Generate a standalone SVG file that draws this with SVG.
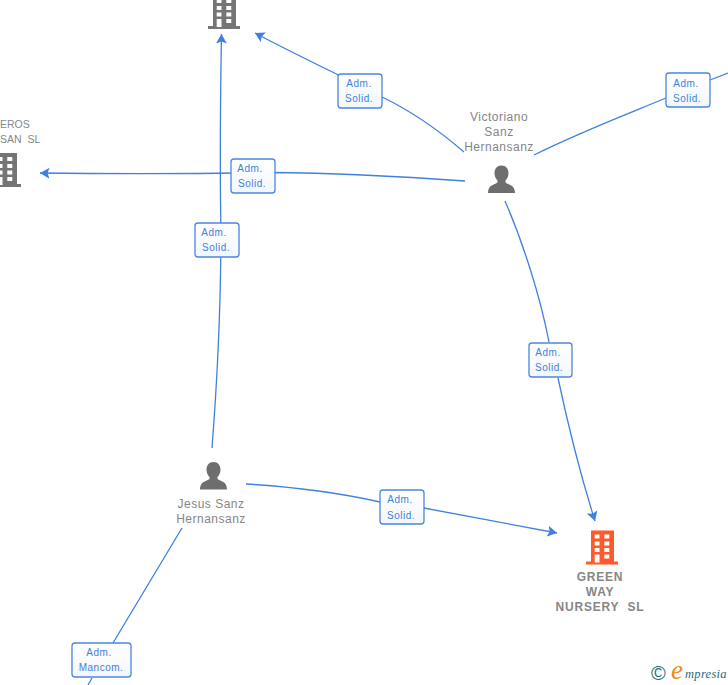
<svg xmlns="http://www.w3.org/2000/svg" width="728" height="685" viewBox="0 0 728 685">
<defs>
<marker id="arrow" viewBox="0 0 10 12" refX="9.500" refY="6" markerWidth="10" markerHeight="12" markerUnits="userSpaceOnUse" orient="auto"><path d="M0 0.500 L9.500 6 L0 11.500 L2 6 Z" fill="#3f80e0"/></marker>
<symbol id="building" viewBox="0 0 32 34" overflow="visible"><path d="M5 0H28V31H32V34H0V31H5Z"/><g fill="#fff"><rect x="8.700" y="4" width="4.800" height="4"/><rect x="18.300" y="4" width="5" height="4"/><rect x="8.700" y="11" width="4.800" height="4"/><rect x="18.300" y="11" width="5" height="4"/><rect x="8.700" y="17.500" width="4.800" height="4"/><rect x="18.300" y="17.500" width="5" height="4"/><rect x="8.700" y="24" width="4.800" height="8"/><rect x="18.300" y="24" width="5" height="4"/></g></symbol>
<symbol id="person" viewBox="0 0 28 28" overflow="visible"><path d="M14 0C18.500 0 21 3.500 21 7.500C21 11 19.500 13.500 18 15V17C21 19.500 27.500 19 27.500 27.500H0.500C0.500 19 7 19.500 10 17V15C8.500 13.500 7 11 7 7.500C7 3.500 9.500 0 14 0Z"/></symbol>
<linearGradient id="box" x1="0" y1="0" x2="0" y2="1"><stop offset="0" stop-color="#fff"/><stop offset="1" stop-color="#f3f7fd"/></linearGradient>
</defs>
<style>
.c{fill:none;stroke:#3f80e0;stroke-width:1.300}
.b{fill:url(#box);stroke:#4a86e0;stroke-width:1.300}
.l{font:10px "Liberation Sans",Arial,sans-serif;fill:#3f7fdc;text-anchor:middle;letter-spacing:.5px}
.n{font:12px "Liberation Sans",Arial,sans-serif;fill:#868686;text-anchor:middle;letter-spacing:.5px}
.s{font-weight:bold;letter-spacing:.8px}
.cut{font:10.500px "Liberation Sans",Arial,sans-serif;fill:#868686}
</style>
<g id="connectors">
<path class="c" marker-end="url(#arrow)" d="M212 448C218 370 222 280 220.500 200C220 140 220.500 90 221.500 34"/>
<path class="c" marker-end="url(#arrow)" d="M464 152C435 127 405 108 382 97C350 80 300 57 255 33"/>
<path class="c" marker-end="url(#arrow)" d="M465 181C380 175 320 173 270 172.500C190 174 110 174 40 173"/>
<path class="c" d="M534 155C580 132 625 115 666 98M710 80L728 73"/>
<path class="c" marker-end="url(#arrow)" d="M505 201C522 240 540 295 549 342M558 378C568 425 582 480 595 521"/>
<path class="c" marker-end="url(#arrow)" d="M246 484C295 487 340 493 380 502M424 508L557 533"/>
<path class="c" d="M182 528L113 643M92 678L88 685"/>
</g>
<g id="rel-top"><rect class="b" x="338" y="74" width="44" height="34" rx="3"/><text class="l" x="359" y="87">Adm.</text><text class="l" x="359" y="102">Solid.</text></g>
<g id="rel-right"><rect class="b" x="666" y="73" width="44" height="34" rx="3"/><text class="l" x="686" y="87">Adm.</text><text class="l" x="687" y="102">Solid.</text></g>
<g id="rel-left"><rect class="b" x="231" y="159" width="44" height="34" rx="3"/><text class="l" x="250" y="172">Adm.</text><text class="l" x="252" y="187">Solid.</text></g>
<g id="rel-vertical"><rect class="b" x="195" y="223" width="44" height="34" rx="3"/><text class="l" x="214" y="236">Adm.</text><text class="l" x="216" y="251">Solid.</text></g>
<g id="rel-victoriano-green"><rect class="b" x="529" y="343" width="43" height="34" rx="3"/><text class="l" x="548" y="356">Adm.</text><text class="l" x="549" y="371">Solid.</text></g>
<g id="rel-jesus-green"><rect class="b" x="380" y="490" width="44" height="34" rx="3"/><text class="l" x="400" y="503">Adm.</text><text class="l" x="401" y="519">Solid.</text></g>
<g id="rel-mancom"><rect class="b" x="72" y="643" width="59" height="34" rx="3"/><text class="l" x="99" y="656">Adm.</text><text class="l" x="101" y="671">Mancom.</text></g>
<g id="node-top" fill="#757575"><use href="#building" x="208" y="-5" width="32" height="34"/></g>
<g id="node-left" fill="#757575"><use href="#building" x="-11" y="153" width="32" height="34"/><text class="cut" x="0" y="128">EROS</text><text class="cut" x="0" y="143" xml:space="preserve">SAN  SL</text></g>
<g id="node-victoriano" fill="#6e6e6e"><use href="#person" x="487.500" y="165.500" width="28" height="28"/><text class="n" x="499" y="121">Victoriano</text><text class="n" x="499" y="136">Sanz</text><text class="n" x="499" y="151">Hernansanz</text></g>
<g id="node-jesus" fill="#6e6e6e"><use href="#person" x="199.500" y="462" width="28" height="28"/><text class="n" x="211" y="508">Jesus Sanz</text><text class="n" x="211" y="523">Hernansanz</text></g>
<g id="node-green" fill="#ff5a2b"><use href="#building" x="586" y="530.500" width="32" height="34"/><text class="n s" x="600" y="581">GREEN</text><text class="n s" x="600" y="596">WAY</text><text class="n s" x="600" y="611" xml:space="preserve">NURSERY  SL</text></g>
<g id="logo"><text x="651" y="680" style="font:20px 'Liberation Sans',sans-serif;fill:#1f6b80">©</text><text x="671" y="679" style="font:italic 27px 'Liberation Serif',serif;fill:#f08a1c">e</text><text x="685" y="678" style="font:italic 12.500px 'Liberation Serif',serif;fill:#1f6b80;letter-spacing:.3px">mpresia</text></g>
</svg>
